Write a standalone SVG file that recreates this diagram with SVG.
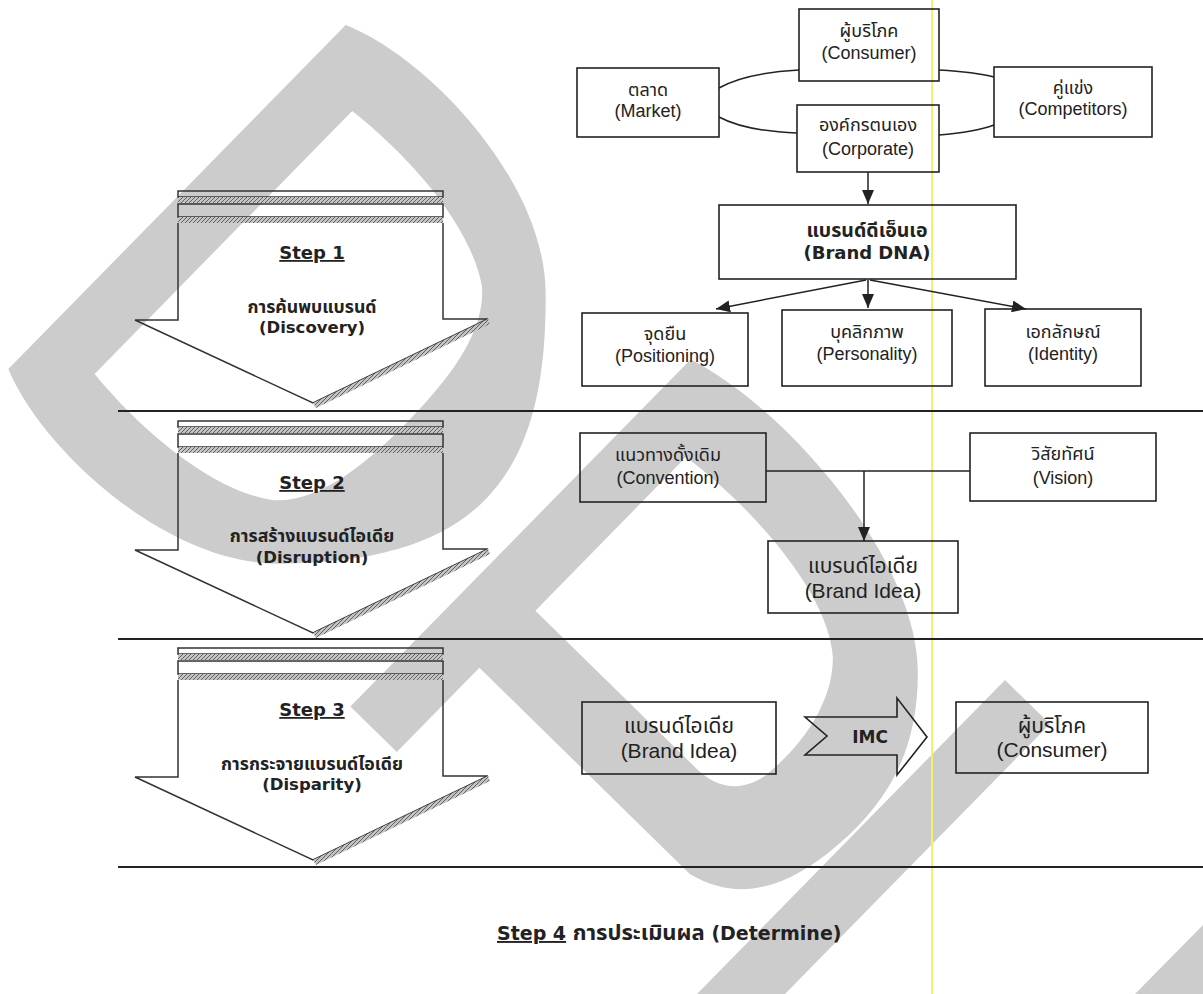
<svg xmlns="http://www.w3.org/2000/svg" xmlns:xlink="http://www.w3.org/1999/xlink" width="1203" height="994" viewBox="0 0 1203 994">
<style>
.ln{stroke:#222;stroke-width:1.5;fill:none}
.bx{stroke:#222;stroke-width:1.6;fill:none}
.ar{stroke:#333;stroke-width:1.5;fill:none}
.t{font-family:"Liberation Sans","Noto Sans Thai",sans-serif;font-size:18px;fill:#222;text-anchor:middle}
.tb{font-family:"Liberation Sans","Noto Sans Thai",sans-serif;font-size:21px;fill:#222;text-anchor:middle}
.b{font-family:"DejaVu Sans","Noto Sans Thai",sans-serif;font-weight:bold;fill:#222;text-anchor:middle}
.wm{fill:#cccccc}
</style>
<defs>
<pattern id="hatch" width="4" height="4" patternUnits="userSpaceOnUse">
<rect width="4" height="4" fill="#c4c4c4"/>
<path d="M0,4 L4,0" stroke="#555" stroke-width="0.9"/>
</pattern>
<marker id="ah" markerWidth="14" markerHeight="12" refX="14" refY="6" orient="auto" markerUnits="userSpaceOnUse">
<path d="M0,0 L14,6 L0,12 z" fill="#222"/>
</marker>
<g id="stepArrow">
<rect x="178" y="191" width="265" height="6" class="ar"/>
<rect x="178" y="197" width="265" height="6" fill="url(#hatch)"/>
<rect x="178" y="204" width="265" height="13" class="ar"/>
<rect x="178" y="217" width="265" height="6" fill="url(#hatch)"/>
<polyline points="443,223 443,319 488,319 313,403 135,320 178,320 178,223" class="ar"/>
<polygon points="313,403 488,319 490,324 316,408" fill="url(#hatch)"/>
</g>
</defs>

<g id="watermark">
<g transform="matrix(0.714,0.7,0.7,-0.714,177,197)">
<path class="wm" fill-rule="evenodd" d="M0,-241 L0,241 C80,275 250,270 330,190 C400,120 432,60 432,0 C432,-60 400,-120 330,-190 C250,-270 80,-275 0,-241 Z M65,-184 L65,184 C140,192 230,185 280,150 C315,120 322,60 322,0 C322,-60 315,-120 280,-150 C230,-185 140,-192 65,-184 Z"/>
</g>
<g transform="matrix(0.714,0.7,0.7,-0.714,520.5,533)">
<path class="wm" fill-rule="evenodd" d="M0,-243 L0,243 C100,275 300,260 380,180 C440,120 450,60 445,0 C440,-60 420,-110 360,-125 L65,-125 L65,-243 Z M65,-45 L65,170 C140,180 260,175 310,130 C340,100 350,50 345,0 C340,-30 320,-45 290,-45 Z"/>
</g>
<polygon class="wm" points="1005,680 1050,724 785,994 697,994"/>
<polygon class="wm" points="1135,994 1203,925 1203,994"/>
</g>

<line x1="932" y1="0" x2="932" y2="994" stroke="#f5f06a" stroke-width="2"/>

<g id="dividers">
<line x1="118" y1="411" x2="1203" y2="411" stroke="#222" stroke-width="1.8"/>
<line x1="118" y1="639" x2="1203" y2="639" stroke="#222" stroke-width="1.8"/>
<line x1="118" y1="867" x2="1203" y2="867" stroke="#222" stroke-width="1.8"/>
</g>

<g id="step1">
<use xlink:href="#stepArrow"/>
<text x="312" y="259" class="b" font-size="18" text-decoration="underline">Step 1</text>
<text x="312" y="313" class="b" font-size="17.7">การค้นพบแบรนด์</text>
<text x="312" y="333" class="b" font-size="16.5">(Discovery)</text>
</g>
<g id="step2" transform="translate(0,230)">
<use xlink:href="#stepArrow"/>
<text x="312" y="259" class="b" font-size="18" text-decoration="underline">Step 2</text>
<text x="312" y="312" class="b" font-size="17.7">การสร้างแบรนด์ไอเดีย</text>
<text x="312" y="333" class="b" font-size="16.5">(Disruption)</text>
</g>
<g id="step3" transform="translate(0,457)">
<use xlink:href="#stepArrow"/>
<text x="312" y="259" class="b" font-size="18" text-decoration="underline">Step 3</text>
<text x="312" y="313" class="b" font-size="17.7">การกระจายแบรนด์ไอเดีย</text>
<text x="312" y="333" class="b" font-size="16.5">(Disparity)</text>
</g>

<g id="connectors">
<path class="ln" d="M719,88 Q745,73 799,70"/>
<path class="ln" d="M719,117 Q745,131 797,133"/>
<path class="ln" d="M939,70 Q975,72 994,77"/>
<path class="ln" d="M939,135 Q975,132 994,125"/>
<line class="ln" x1="868" y1="172" x2="868" y2="204" marker-end="url(#ah)"/>
<line class="ln" x1="866" y1="280" x2="716" y2="309" marker-end="url(#ah)"/>
<line class="ln" x1="868" y1="280" x2="868" y2="308" marker-end="url(#ah)"/>
<line class="ln" x1="870" y1="280" x2="1026" y2="309" marker-end="url(#ah)"/>
<line class="ln" x1="766" y1="471" x2="970" y2="471"/>
<line class="ln" x1="864" y1="471" x2="864" y2="541" marker-end="url(#ah)"/>
</g>

<g id="consumer">
<rect class="bx" x="799" y="9" width="140" height="72"/>
<text class="t" x="869" y="37">ผู้บริโภค</text>
<text class="t" x="869" y="59">(Consumer)</text>
</g>
<g id="market">
<rect class="bx" x="577" y="68" width="142" height="69"/>
<text class="t" x="648" y="96">ตลาด</text>
<text class="t" x="648" y="117">(Market)</text>
</g>
<g id="corporate">
<rect class="bx" x="797" y="105" width="142" height="67"/>
<text class="t" x="868" y="131">องค์กรตนเอง</text>
<text class="t" x="868" y="155">(Corporate)</text>
</g>
<g id="competitors">
<rect class="bx" x="994" y="67" width="158" height="70"/>
<text class="t" x="1073" y="94">คู่แข่ง</text>
<text class="t" x="1073" y="115">(Competitors)</text>
</g>
<g id="branddna">
<rect class="bx" x="719" y="205" width="297" height="74"/>
<text class="b" font-size="19.5" x="867" y="237">แบรนด์ดีเอ็นเอ</text>
<text class="b" font-size="18" x="867" y="259">(Brand DNA)</text>
</g>
<g id="positioning">
<rect class="bx" x="582" y="313" width="166" height="73"/>
<text class="t" x="665" y="340">จุดยืน</text>
<text class="t" x="665" y="362">(Positioning)</text>
</g>
<g id="personality">
<rect class="bx" x="782" y="310" width="170" height="76"/>
<text class="t" x="867" y="338">บุคลิกภาพ</text>
<text class="t" x="867" y="360">(Personality)</text>
</g>
<g id="identity">
<rect class="bx" x="985" y="309" width="156" height="77"/>
<text class="t" x="1063" y="338">เอกลักษณ์</text>
<text class="t" x="1063" y="360">(Identity)</text>
</g>

<g id="convention">
<rect class="bx" x="580" y="433" width="186" height="69"/>
<text class="t" x="668" y="461">แนวทางดั้งเดิม</text>
<text class="t" x="668" y="484">(Convention)</text>
</g>
<g id="vision">
<rect class="bx" x="970" y="433" width="186" height="68"/>
<text class="t" x="1063" y="460">วิสัยทัศน์</text>
<text class="t" x="1063" y="484">(Vision)</text>
</g>
<g id="brandidea2">
<rect class="bx" x="768" y="541" width="190" height="72"/>
<text class="tb" x="863" y="573" font-size="22">แบรนด์ไอเดีย</text>
<text class="tb" x="863" y="598">(Brand Idea)</text>
</g>

<g id="brandidea3">
<rect class="bx" x="582" y="702" width="194" height="72"/>
<text class="tb" x="679" y="733" font-size="22">แบรนด์ไอเดีย</text>
<text class="tb" x="679" y="758">(Brand Idea)</text>
</g>
<g id="imc">
<polygon class="bx" points="805,717 897,717 897,698 927,737 897,775 897,755 805,755 827,736"/>
<text class="b" font-size="17" x="870" y="743">IMC</text>
</g>
<g id="consumer3">
<rect class="bx" x="956" y="702" width="192" height="71"/>
<text class="tb" x="1052" y="733" font-size="22">ผู้บริโภค</text>
<text class="tb" x="1052" y="757">(Consumer)</text>
</g>

<g id="step4">
<text x="497" y="940" font-family="DejaVu Sans, 'Noto Sans Thai', sans-serif" font-weight="bold" font-size="19" fill="#222"><tspan text-decoration="underline">Step 4</tspan> <tspan font-size="22">การประเมินผล</tspan> (Determine)</text>
</g>
</svg>
